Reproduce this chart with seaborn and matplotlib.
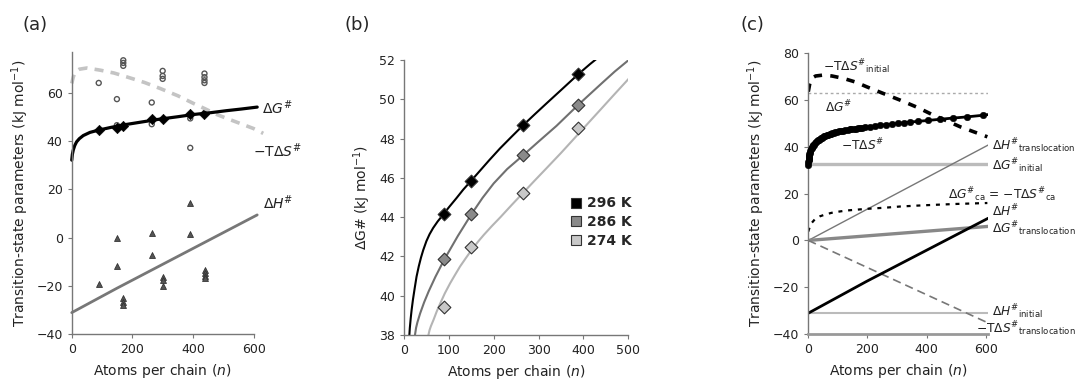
import matplotlib
matplotlib.use("Agg")
import matplotlib.pyplot as plt
from matplotlib.lines import Line2D
import seaborn as sns

# ---- panel (a) ----
a_fit_n = [0, 2, 5, 10, 16, 25, 38, 60, 90, 130, 180, 240, 290, 350, 400, 460, 510, 560, 612]
a_fit_dg = [32.1, 34.5, 36.3, 38.2, 39.7, 41.0, 42.3, 43.6, 44.6, 45.7, 46.9, 48.1, 49.1, 50.1, 51.0, 51.8, 52.6, 53.3, 54.1]
a_tds_n = [0, 5, 11, 25, 50, 94, 140, 182, 240, 292, 350, 402, 440, 479, 520, 556, 600, 632]
a_tds_v = [63.9, 66.5, 68.7, 69.8, 70.3, 69.4, 68.2, 66.6, 64.3, 61.8, 58.8, 55.6, 53.4, 51.0, 49.0, 47.3, 45.2, 43.2]
a_dh_n = [0, 149, 612]
a_dh_v = [-31.1, -21.0, 9.4]
a_dia_n = [90, 149, 170, 264, 300, 391, 438]
a_dia_v = [44.55, 45.5, 46.3, 49.1, 49.1, 51.2, 51.2]
a_circ_n = [89, 149, 170, 170, 170, 149, 264, 264, 300, 300, 300, 391, 391, 438, 438, 438, 438]
a_circ_v = [64.1, 57.4, 73.5, 72.4, 71.2, 46.6, 56.0, 47.0, 69.1, 67.0, 65.8, 49.4, 37.2, 68.0, 66.5, 65.2, 64.1]
a_tri_n = [89, 149, 149, 170, 170, 170, 264, 264, 300, 300, 300, 391, 391, 440, 440, 440, 440]
a_tri_v = [-19.4, -0.3, -11.8, -25.2, -26.6, -27.9, 1.8, -7.2, -16.5, -17.6, -20.1, 14.2, 1.4, -13.4, -14.5, -15.9, -16.9]

# ---- panel (b) ----
b_pts_n = [90, 150, 266, 388]
b_296 = [44.14, 45.84, 48.69, 51.27]
b_286 = [41.85, 44.14, 47.16, 49.71]
b_274 = [39.41, 42.46, 45.21, 48.52]
b_fit296_n = [12, 13, 15, 17, 20, 24, 28, 33, 38, 43, 50, 57, 65, 75, 88, 100, 117, 132, 150,
              170, 190, 214, 240, 266, 292, 318, 350, 388, 415, 445]
b_fit296_v = [38.0, 38.35, 38.85, 39.27, 39.8, 40.4, 40.97, 41.5, 41.95, 42.33, 42.78, 43.13,
              43.45, 43.78, 44.15, 44.5, 44.97, 45.4, 45.86, 46.38, 46.9, 47.5, 48.1, 48.69,
              49.25, 49.8, 50.47, 51.27, 51.8, 52.35]
b_fit286_n = [24.5, 27, 30, 36, 45, 55, 70, 90, 120, 150, 175, 200, 230, 266, 300, 340, 388,
              440, 470, 505]
b_fit286_v = [38.0, 38.37, 38.65, 39.1, 39.67, 40.22, 40.96, 41.85, 43.04, 44.14, 44.98, 45.72,
              46.45, 47.16, 47.85, 48.65, 49.71, 50.8, 51.42, 52.08]
b_fit274_n = [54.5, 57, 60, 66, 73, 81, 91, 103, 114, 125, 138, 151, 165, 178, 196, 215, 240,
              266, 292, 318, 350, 388, 411, 437, 470, 505]
b_fit274_v = [38.0, 38.25, 38.45, 38.78, 39.2, 39.62, 40.12, 40.64, 41.07, 41.49, 41.92, 42.34,
              42.75, 43.1, 43.55, 44.0, 44.62, 45.25, 45.88, 46.5, 47.27, 48.22, 48.8, 49.45,
              50.28, 51.15]
temps = ["296 K", "286 K", "274 K"]

# ---- panel (c) ----
c_dg_n = [0, 0.5, 1, 1.5, 2, 3, 4, 5, 7, 9, 11, 13, 15, 17, 19, 22, 25, 28, 32, 35, 38, 42, 46,
          50, 54, 58, 63, 67, 72, 77, 81, 86, 90, 97, 105, 111, 118, 125, 133, 140, 146, 153,
          161, 168, 175, 183, 192, 208, 225, 242, 262, 282, 302, 323, 344, 370, 405, 445, 488,
          535, 589]
c_dg_v = [32.3, 33.5, 34.3, 35.0, 35.5, 36.3, 37.0, 37.5, 38.3, 38.9, 39.4, 39.9, 40.3, 40.7,
          41.0, 41.5, 41.9, 42.3, 42.75, 43.05, 43.35, 43.7, 44.0, 44.3, 44.55, 44.8, 45.05,
          45.25, 45.5, 45.7, 45.85, 46.0, 46.15, 46.35, 46.6, 46.75, 46.95, 47.1, 47.3, 47.45,
          47.55, 47.7, 47.85, 48.0, 48.1, 48.25, 48.4, 48.65, 48.9, 49.2, 49.5, 49.75, 50.0,
          50.3, 50.6, 50.9, 51.3, 51.8, 52.3, 52.8, 53.5]
c_tail_n = [589, 608]
c_tail_v = [53.5, 53.8]
c_tds_init_n = [0, 5, 11, 25, 51, 80, 118, 160, 197, 250, 310, 370, 422, 470, 513, 560, 605]
c_tds_init_v = [63.6, 67.0, 69.3, 70.3, 70.7, 70.3, 69.3, 67.7, 65.7, 63.0, 60.0, 56.8, 53.6, 51.0, 48.6, 46.4, 44.3]
c_ca_n = [0, 5, 11, 22, 39, 60, 85, 130, 197, 260, 310, 370, 422, 500, 605]
c_ca_v = [3.8, 5.8, 7.4, 9.0, 10.3, 11.2, 12.0, 12.8, 13.5, 14.0, 14.5, 14.9, 15.2, 15.6, 16.0]
c_ends = [0, 608]
c_dg_level = [63.1, 63.1]
c_dh_trans = [0, 40.8]
c_dg_init = [32.5, 32.5]
c_dg_trans = [0, 6.0]
c_tds_trans = [0, -35.3]
c_dh_init = [-31.1, -31.1]
c_dh_n = [0, 197, 608]
c_dh_v = [-31.1, -17.5, 9.5]

sns.set_style("ticks")
plt.rcParams['font.family'] = ['DejaVu Sans']
plt.rcParams['mathtext.fontset'] = 'dejavusans'

fig = plt.figure(figsize=(10.79, 3.84), dpi=100)
ax_a = fig.add_axes([0.0665, 0.130, 0.1685, 0.735])
ax_b = fig.add_axes([0.3744, 0.1276, 0.2079, 0.716])
ax_c = fig.add_axes([0.7491, 0.1302, 0.1668, 0.731])

lab = dict(fontsize=10, color='#222222')


def style_axes(ax):
    sns.despine(ax=ax)
    for s in ['left', 'bottom']:
        ax.spines[s].set_color('#777777')
        ax.spines[s].set_linewidth(1.0)
    ax.tick_params(labelsize=9, colors='#777777', labelcolor='#222222', length=3, width=0.8)
    ax.set_xlabel("Atoms per chain ($n$)", fontsize=10, color='#222222')


def line(ax, x, y, **kw):
    sns.lineplot(x=x, y=y, ax=ax, estimator=None, sort=False, **kw)


# (a)
line(ax_a, a_tds_n, a_tds_v, color='#c4c4c4', lw=2.6, linestyle=(0, (2.5, 2.0)), clip_on=False)
line(ax_a, a_dh_n, a_dh_v, color='#777777', lw=2.0, clip_on=False)
sns.scatterplot(x=a_circ_n, y=a_circ_v, ax=ax_a, marker='o', s=13, facecolors='none',
                edgecolor='#555555', linewidth=1.0, clip_on=False)
sns.scatterplot(x=a_tri_n, y=a_tri_v, ax=ax_a, marker='^', s=18, color='#555555',
                edgecolor='#333333', linewidth=0.6)
line(ax_a, a_fit_n, a_fit_dg, color='black', lw=2.3, clip_on=False)
sns.scatterplot(x=a_dia_n, y=a_dia_v, ax=ax_a, marker='D', s=28, color='black', edgecolor='black')
ax_a.set_xlim(0, 600)
ax_a.set_ylim(-40, 77)
ax_a.set_xticks([0, 200, 400, 600])
ax_a.set_yticks([-40, -20, 0, 20, 40, 60])
ax_a.set_ylabel("Transition-state parameters (kJ mol$^{-1}$)", fontsize=10, color='#222222')
style_axes(ax_a)
ax_a.text(628, 53.7, r'$\Delta G^{\#}$', ha='left', va='center', clip_on=False, **lab)
ax_a.text(598, 35.9, r'$-\mathrm{T}\Delta S^{\#}$', ha='left', va='center', clip_on=False, **lab)
ax_a.text(632, 14.3, r'$\Delta H^{\#}$', ha='left', va='center', clip_on=False, **lab)

# (b)
b_line_cols = ['black', '#707070', '#b4b4b4']
b_face_cols = ['black', '#8a8a8a', '#c8c8c8']
for fn, fv, pv, lc, fc in zip([b_fit296_n, b_fit286_n, b_fit274_n],
                              [b_fit296_v, b_fit286_v, b_fit274_v],
                              [b_296, b_286, b_274], b_line_cols, b_face_cols):
    line(ax_b, fn, fv, color=lc, lw=1.5)
    sns.scatterplot(x=b_pts_n, y=pv, ax=ax_b, marker='D', s=42, color=fc,
                    edgecolor='#333333', linewidth=0.8, zorder=3)
ax_b.set_xlim(0, 500)
ax_b.set_ylim(38, 52)
ax_b.set_xticks([0, 100, 200, 300, 400, 500])
ax_b.set_yticks([38, 40, 42, 44, 46, 48, 50, 52])
ax_b.set_ylabel("ΔG# (kJ mol$^{-1}$)", fontsize=10, color='#222222')
style_axes(ax_b)
handles = [Line2D([], [], ls='none', marker='s', ms=7, mfc=fc, mec='#333333', mew=0.8)
           for fc in b_face_cols]
ax_b.legend(handles, temps, loc='center left', bbox_to_anchor=(0.71, 0.41), frameon=False,
            prop={'weight': 'bold', 'size': 10}, handletextpad=0.3, labelspacing=0.35,
            handlelength=1.0, borderaxespad=0)

# (c)
line(ax_c, c_ends, c_dg_level, color='#aaaaaa', lw=1.0, linestyle=(0, (2, 2)))
line(ax_c, c_ends, c_dg_init, color='#bbbbbb', lw=2.4)
line(ax_c, c_ends, c_dh_init, color='#bbbbbb', lw=1.5)
line(ax_c, c_ends, c_dh_trans, color='#777777', lw=1.0)
line(ax_c, c_ends, c_dg_trans, color='#888888', lw=2.4)
line(ax_c, c_ends, c_tds_trans, color='#777777', lw=1.2, linestyle=(0, (5, 3)))
line(ax_c, c_ca_n, c_ca_v, color='black', lw=1.6, linestyle=(0, (1.8, 2.6)))
line(ax_c, c_dh_n, c_dh_v, color='black', lw=2.0)
line(ax_c, c_tds_init_n, c_tds_init_v, color='black', lw=2.6, linestyle=(0, (2.3, 2.3)))
line(ax_c, c_dg_n, c_dg_v, color='black', lw=2.0)
line(ax_c, c_tail_n, c_tail_v, color='black', lw=2.0)
sns.scatterplot(x=c_dg_n, y=c_dg_v, ax=ax_c, marker='o', s=22, color='black',
                edgecolor='black', zorder=3, clip_on=False)
ax_c.set_xlim(0, 608)
ax_c.set_ylim(-40, 80)
ax_c.set_xticks([0, 200, 400, 600])
ax_c.set_yticks([-40, -20, 0, 20, 40, 60, 80])
ax_c.set_ylabel("Transition-state parameters (kJ mol$^{-1}$)", fontsize=10, color='#222222')
style_axes(ax_c)
ax_c.spines['bottom'].set_linewidth(2.0)
ax_c.spines['bottom'].set_color('#999999')

c_labels = [
    (49, 74.2, r'$-\mathrm{T}\Delta S^{\#}{}_{\mathrm{initial}}$', 'left'),
    (103, 57.0, r'$\Delta G^{\#}$', 'center'),
    (185, 40.8, r'$-\mathrm{T}\Delta S^{\#}$', 'center'),
    (620, 40.6, r'$\Delta H^{\#}{}_{\mathrm{translocation}}$', 'left'),
    (620, 32.1, r'$\Delta G^{\#}{}_{\mathrm{initial}}$', 'left'),
    (472, 19.5, r'$\Delta G^{\#}{}_{\mathrm{ca}}$ = $-\mathrm{T}\Delta S^{\#}{}_{\mathrm{ca}}$', 'left'),
    (620, 12.4, r'$\Delta H^{\#}$', 'left'),
    (620, 4.9, r'$\Delta G^{\#}{}_{\mathrm{translocation}}$', 'left'),
    (620, -30.4, r'$\Delta H^{\#}{}_{\mathrm{initial}}$', 'left'),
    (566, -37.6, r'$-\mathrm{T}\Delta S^{\#}{}_{\mathrm{translocation}}$', 'left'),
]
for x, y, t, ha in c_labels:
    ax_c.text(x, y, t, ha=ha, va='center', clip_on=False, fontsize=8.8, color='#222222')

fig.text(0.0204, 0.935, "(a)", fontsize=13, ha='left', va='center')
fig.text(0.3197, 0.935, "(b)", fontsize=13, ha='left', va='center')
fig.text(0.6867, 0.935, "(c)", fontsize=13, ha='left', va='center')

fig.savefig("out.png", dpi=100)
